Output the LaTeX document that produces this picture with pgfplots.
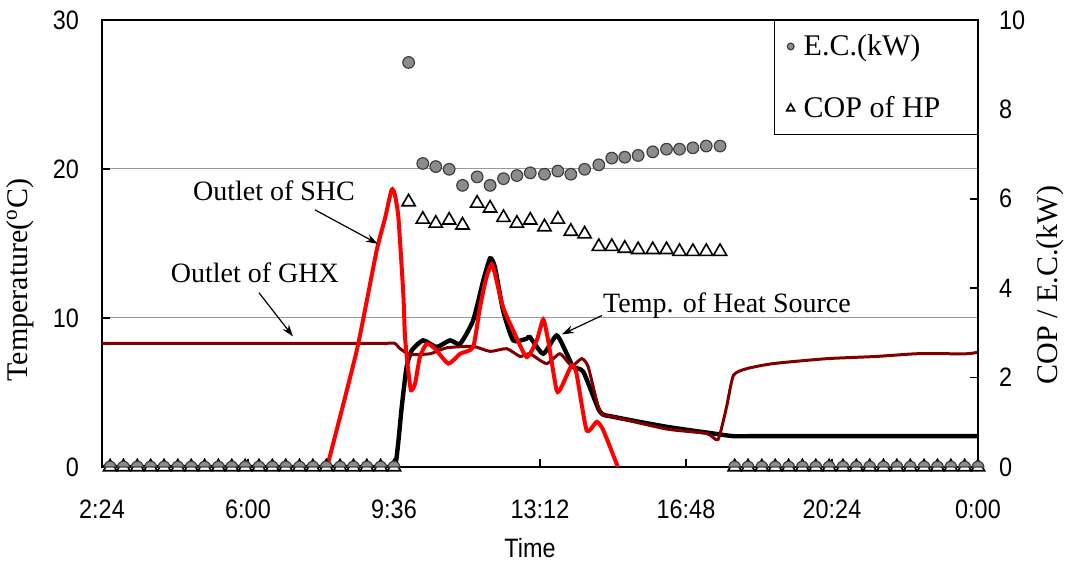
\documentclass[border=0pt]{standalone}
\usepackage{fontspec}
\setmainfont{Liberation Serif}
\newfontfamily\narrowsans[FakeStretch=0.88]{Liberation Sans}
\usepackage{pgfplots}
\pgfplotsset{compat=1.18}
\usetikzlibrary{arrows.meta}
\definecolor{ghx}{RGB}{128,0,0}
\definecolor{ecgray}{RGB}{140,140,140}
% upper half of a dot, for the E.C. points that lie on the axis line
\pgfdeclareplotmark{halfdot}{%
  \pgfpathmoveto{\pgfqpoint{\pgfplotmarksize}{0pt}}%
  \pgfpatharc{0}{180}{\pgfplotmarksize}%
  \pgfpathclose
  \pgfusepathqfillstroke}
\pgfplotsset{
  legmark/.style={legend image code/.code={%
    \path[draw=none, fill=none] (0pt,0pt) -- (9.5pt,0pt);
    \draw[##1] plot coordinates {(5pt,0pt)};}},
}

\begin{document}
\begin{tikzpicture}
\useasboundingbox (-51pt,-49.5pt) rectangle (485pt,233.5pt);
% temperature axis (left)
\begin{axis}[
  at={(0pt,0pt)}, anchor=south west,
  scale only axis, width=438pt, height=223.5pt,
  xmin=2.4, xmax=24, ymin=0, ymax=30,
  xtick={2.4,6,9.6,13.2,16.8,20.4,24},
  xticklabels={2:24,6:00,9:36,13:12,16:48,20:24,0:00},
  ytick={0,10,20,30}, yticklabels={0,10,20,30},
  tick align=inside, xtick pos=bottom, ytick pos=left,
  major tick length=4pt,
  ymajorgrids, grid style={gray!80, line width=0.5pt},
  axis line style={line width=0.8pt},
  tick style={black, line width=0.8pt},
  ticklabel style={font=\narrowsans\fontsize{13.3}{15}\selectfont},
  xticklabel style={yshift=-13pt},
  yticklabel style={xshift=-8pt},
  xlabel={Time},
  xlabel style={at={(rel axis cs:0.4886,-0.181)}, anchor=center, font=\narrowsans\fontsize{13.3}{15}\selectfont},
  ylabel={Temperature(\textsuperscript{o}C)},
  ylabel style={at={(rel axis cs:-0.0936,0.418)}, anchor=center, font=\fontsize{15}{17}\selectfont},
]
% Temp. of Heat Source
\addplot[black, line width=2.2pt, smooth, tension=0.35] coordinates {
  (2.4,0) (4,0) (6,0) (8,0) (9,0) (9.4,0) (9.62,0) (9.70,1.5) (9.79,4.0) (9.91,6.7) (10.04,7.83)
  (10.32,8.5) (10.65,8.05) (10.98,8.5)
  (11.23,8.27) (11.55,9.83) (11.80,12.5) (11.97,14.0) (12.09,13.4) (12.29,10.5) (12.54,8.5)
  (12.87,8.61) (12.95,8.72) (13.28,7.6) (13.61,8.83) (13.86,7.6) (14.02,6.71) (14.27,6.38)
  (14.68,3.7) (15.01,3.37) (16.32,2.7) (17.47,2.25) (17.97,2.07) (18.5,2.07) (20,2.07) (22,2.07) (24,2.07)
};
% Outlet of GHX
\addplot[ghx, line width=1.5pt, smooth, tension=0.35] coordinates {
  (2.4,8.3) (4,8.3) (6,8.3) (8,8.3) (9,8.3) (9.4,8.3) (9.62,8.3) (9.75,7.94) (9.99,7.56) (10.49,7.6)
  (10.90,8.0) (11.55,8.09) (11.97,7.76)
  (12.38,7.94) (12.71,7.42) (12.95,7.6) (13.36,6.94) (13.69,7.6) (13.98,6.8) (14.23,7.27)
  (14.39,6.71) (14.68,3.7) (15.01,3.37) (16.32,2.55) (17.31,2.25) (17.59,1.85) (17.80,4.03)
  (17.97,6.15) (18.30,6.6) (18.95,6.94) (20.27,7.27) (21.50,7.42) (22.49,7.6) (23.72,7.6) (24,7.71)
};
% Outlet of SHC
\addplot[red, line width=2pt, smooth, tension=0.35] coordinates {
  (7.95,0) (8.68,7.8) (9.17,14.5) (9.38,16.7) (9.54,18.6) (9.62,18.3) (9.71,16.7) (9.83,11.6)
  (9.87,8.8) (9.95,6.5) (10.02,5.15) (10.12,5.6) (10.24,7.4) (10.41,8.27) (10.61,7.94) (10.94,6.94)
  (11.23,7.6) (11.55,8.05) (11.72,10.72) (11.88,12.73) (12.01,13.6) (12.09,12.96) (12.29,10.72)
  (12.54,9.16) (12.87,7.38) (13.12,8.5) (13.28,9.9) (13.40,8.5) (13.61,5.15) (13.73,5.37)
  (13.98,6.82) (14.10,6.27) (14.35,2.47) (14.60,3.03) (14.76,2.47) (15.12,0)
};
% annotations
\node[font=\fontsize{14}{16}\selectfont] at (axis cs:6.64,18.53) {Outlet of SHC};
\draw[-{Stealth[length=6pt,width=4pt]}, line width=0.6pt] (axis cs:7.65,17.26) -- (axis cs:9.20,14.98);
\node[font=\fontsize{14}{16}\selectfont] at (axis cs:6.17,13.04) {Outlet of GHX};
\draw[-{Stealth[length=6pt,width=4pt]}, line width=0.6pt] (axis cs:6.27,11.7) -- (axis cs:7.11,8.76);
\node[font=\fontsize{14}{16}\selectfont] at (axis cs:17.81,10.84) {Temp. of Heat Source};
\draw[-{Stealth[length=6pt,width=4pt]}, line width=0.6pt] (axis cs:14.73,10.17) -- (axis cs:13.74,8.9);
\end{axis}
% COP / E.C. axis (right)
\begin{axis}[
  at={(0pt,0pt)}, anchor=south west,
  scale only axis, width=438pt, height=223.5pt,
  xmin=2.4, xmax=24, ymin=0, ymax=10,
  hide x axis, axis y line*=right,
  ytick={0,2,4,6,8,10}, yticklabels={0,2,4,6,8,10},
  tick align=inside, major tick length=4pt,
  axis line style={line width=0.8pt},
  tick style={black, line width=0.8pt},
  ticklabel style={font=\narrowsans\fontsize{13.3}{15}\selectfont},
  yticklabel style={xshift=7pt},
  ylabel={COP / E.C.(kW)},
  ylabel style={at={(rel axis cs:1.082,0.407)}, anchor=center, font=\fontsize{15}{17}\selectfont},
  legend style={at={(rel axis cs:1,1)}, anchor=north east, draw=black, line width=0.6pt,
    fill=white, font=\fontsize{15}{17}\selectfont, row sep=15pt, inner xsep=3pt, inner ysep=5pt,
    cells={anchor=west}},
]
\addplot[only marks, legmark, mark=*, mark size=2.9pt, mark options={fill=ecgray, draw=black!75, line width=0.6pt},
  legend image post style={mark size=1.7pt}] coordinates {
  (9.96,9.05) (10.31,6.79) (10.63,6.72) (10.96,6.66) (11.29,6.30) (11.65,6.49) (11.97,6.30) (12.30,6.45)
  (12.63,6.52) (12.96,6.58) (13.31,6.55) (13.64,6.62) (13.96,6.55) (14.30,6.66) (14.65,6.76) (14.97,6.91)
  (15.29,6.93) (15.62,6.97) (15.98,7.05) (16.32,7.11) (16.64,7.11) (16.97,7.14) (17.30,7.18) (17.64,7.18)
};
\addlegendentry{E.C.(kW)}
\addplot[only marks, legmark, mark=triangle*, mark size=3.8pt, mark options={fill=white, draw=black, line width=0.8pt},
  legend image post style={mark size=2.3pt}] coordinates {
  (2.60,0) (2.93,0) (3.27,0) (3.60,0) (3.93,0) (4.27,0) (4.60,0) (4.93,0) (5.27,0) (5.60,0) (5.93,0)
  (6.27,0) (6.60,0) (6.93,0) (7.27,0) (7.60,0) (7.93,0) (8.27,0) (8.60,0) (8.93,0) (9.27,0) (9.60,0)
  (9.96,5.93) (10.31,5.54) (10.63,5.45) (10.96,5.52) (11.29,5.41) (11.65,5.90) (11.97,5.79) (12.30,5.58)
  (12.63,5.45) (12.96,5.52) (13.31,5.37) (13.64,5.54) (13.96,5.27) (14.30,5.21) (14.65,4.93) (14.97,4.93)
  (15.29,4.89) (15.62,4.86) (15.98,4.86) (16.32,4.86) (16.64,4.82) (16.97,4.82) (17.30,4.82) (17.64,4.82)
  (18.00,0) (18.33,0) (18.67,0) (19.00,0) (19.33,0) (19.67,0) (20.00,0) (20.33,0) (20.67,0) (21.00,0)
  (21.33,0) (21.67,0) (22.00,0) (22.33,0) (22.67,0) (23.00,0) (23.33,0) (23.67,0) (24.00,0)
};
\addlegendentry{COP of HP\kern13.5pt}
% E.C. of zero, on the axis line
\addplot[forget plot, only marks, mark=halfdot, mark size=2.9pt, mark options={fill=ecgray, draw=black!75, line width=0.6pt}] coordinates {
  (2.60,0) (2.93,0) (3.27,0) (3.60,0) (3.93,0) (4.27,0) (4.60,0) (4.93,0) (5.27,0) (5.60,0) (5.93,0)
  (6.27,0) (6.60,0) (6.93,0) (7.27,0) (7.60,0) (7.93,0) (8.27,0) (8.60,0) (8.93,0) (9.27,0) (9.60,0)
  (18.00,0) (18.33,0) (18.67,0) (19.00,0) (19.33,0) (19.67,0) (20.00,0) (20.33,0) (20.67,0) (21.00,0)
  (21.33,0) (21.67,0) (22.00,0) (22.33,0) (22.67,0) (23.00,0) (23.33,0) (23.67,0) (24.00,0)
};
\end{axis}
\end{tikzpicture}
\end{document}
